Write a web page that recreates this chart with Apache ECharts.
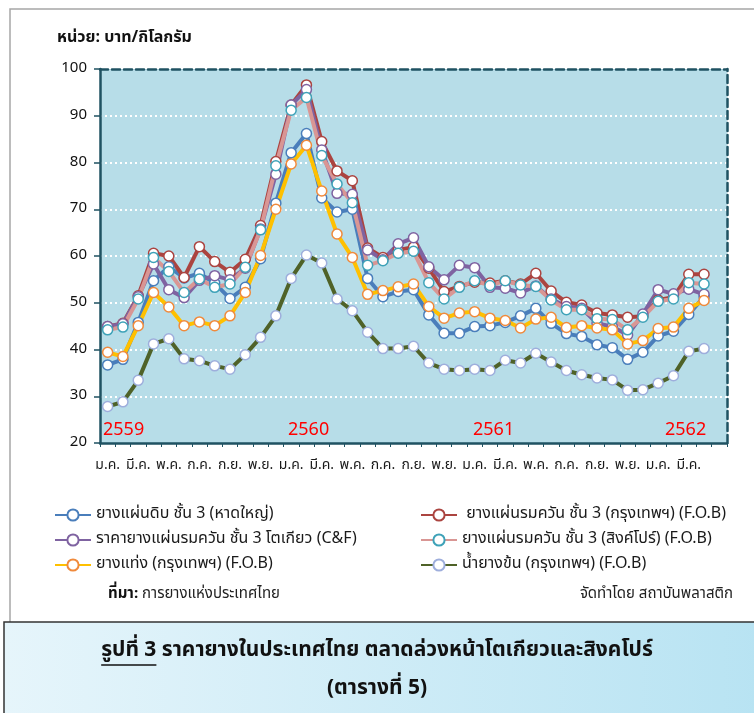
<!DOCTYPE html>
<html>
<head>
<meta charset="utf-8">
<script src="https://cdn.jsdelivr.net/npm/echarts@6/dist/echarts.min.js"></script>
<style>
  html, body { margin: 0; padding: 0; background: #fff; }
  #main { width: 754px; height: 713px; }
</style>
</head>
<body>
<div id="main"></div>
<script>
// เดือน (ม.ค. 2559 - เม.ย. 2562) ช่องสุดท้ายว่าง
var categories = ['ม.ค.','ก.พ.','มี.ค.','เม.ย.','พ.ค.','มิ.ย.','ก.ค.','ส.ค.','ก.ย.','ต.ค.','พ.ย.','ธ.ค.',
                  'ม.ค.','ก.พ.','มี.ค.','เม.ย.','พ.ค.','มิ.ย.','ก.ค.','ส.ค.','ก.ย.','ต.ค.','พ.ย.','ธ.ค.',
                  'ม.ค.','ก.พ.','มี.ค.','เม.ย.','พ.ค.','มิ.ย.','ก.ค.','ส.ค.','ก.ย.','ต.ค.','พ.ย.','ธ.ค.',
                  'ม.ค.','ก.พ.','มี.ค.','เม.ย.',''];
var years = ['2559', '2560', '2561', '2562'];
var yTicks = [20, 30, 40, 50, 60, 70, 80, 90, 100];

var rssHatyai = [36.7,37.9,45.8,54.7,57.7,55.3,56.3,54.2,50.9,53.3,59.4,71.3,82.1,86.2,72.4,69.4,70.0,55.2,51.3,52.4,
                 52.8,47.4,43.5,43.5,44.9,45.1,45.8,47.2,48.8,45.6,43.4,42.8,41.0,40.4,37.9,39.4,42.9,43.9,47.5,51.3];
var rssBkk    = [44.9,45.6,51.5,60.6,60.0,55.4,62.0,58.8,56.5,59.3,66.5,80.2,92.3,96.6,84.5,78.2,76.1,61.7,59.7,61.3,
                 61.9,57.4,52.4,53.5,54.4,54.2,54.7,54.0,56.3,52.5,50.1,49.5,47.8,47.4,46.9,47.1,50.6,51.2,56.1,56.1];
var rssTokyo  = [44.9,45.5,51.3,58.3,52.8,51.1,54.8,55.8,54.9,57.4,65.8,77.5,92.3,95.6,82.7,73.4,73.2,61.3,59.2,62.6,
                 63.9,57.7,54.9,58.0,57.5,53.3,53.1,52.1,53.6,50.8,49.2,48.8,45.6,44.9,43.1,47.6,52.8,51.9,52.9,51.8];
var rssSgp    = [44.2,44.8,50.8,59.7,56.7,52.2,55.1,53.3,54.0,57.6,65.6,79.3,91.2,93.9,81.5,75.4,71.4,58.0,59.0,60.6,
                 61.0,54.3,50.8,53.3,54.7,53.7,54.7,53.8,53.5,50.6,48.5,48.5,46.6,46.4,44.2,46.9,50.3,50.8,54.3,54.0];
var str20     = [39.4,38.5,45.1,52.2,49.1,45.1,45.9,45.1,47.2,52.2,60.1,70.0,79.7,83.7,73.9,64.7,59.7,51.8,52.6,53.4,
                 54.0,49.2,46.7,47.8,48.1,46.7,46.2,44.6,46.5,46.9,44.7,45.1,44.6,44.2,41.2,41.9,44.5,44.8,48.8,50.5];
var latex     = [27.8,28.8,33.4,41.2,42.3,38.0,37.6,36.5,35.8,38.9,42.6,47.2,55.2,60.2,58.5,50.8,48.3,43.7,40.2,40.2,
                 40.7,37.1,35.8,35.5,35.8,35.5,37.7,37.1,39.2,37.3,35.5,34.6,33.9,33.5,31.3,31.4,32.8,34.4,39.6,40.2];

var FONT = 'Tahoma, "Noto Sans Thai", "Noto Sans", sans-serif';
var AXIS = '#1f5262';

// ชื่อรูป + ความกว้างสำหรับขีดเส้นใต้ "รูปที่ 3"
var titleHead = 'รูปที่ 3';
var titleText = titleHead + ' ราคายางในประเทศไทย ตลาดล่วงหน้าโตเกียวและสิงคโปร์';
var ctx = document.createElement('canvas').getContext('2d');
ctx.font = 'bold 21px ' + FONT;
var titleW = ctx.measureText(titleText).width;
var headW = ctx.measureText(titleHead).width;
var titleX = 377 - titleW / 2;

var myChart = echarts.init(document.getElementById('main'));

function mkSeries(name, data, lineColor, borderColor) {
    return {
        name: name,
        type: 'line',
        data: data,
        symbol: 'circle',
        symbolSize: 10,
        lineStyle: { color: lineColor, width: 4 },
        itemStyle: { color: '#fff', borderColor: borderColor, borderWidth: 1.5 },
        emphasis: { disabled: true }
    };
}

var legendText = { fontSize: 16, color: '#1a1a1a', fontFamily: FONT };

var option = {
    animation: false,
    textStyle: { fontFamily: FONT },
    grid: { left: 100, top: 69, right: 27, bottom: 270, show: true, backgroundColor: '#b7dde8', borderWidth: 0 },
    legend: [{
        orient: 'vertical', left: 49, top: 502, itemWidth: 36, itemHeight: 14, itemGap: 9,
        textStyle: legendText,
        data: ['ยางแผ่นดิบ ชั้น 3 (หาดใหญ่)', 'ราคายางแผ่นรมควัน ชั้น 3 โตเกียว (C&F)', 'ยางแท่ง (กรุงเทพฯ) (F.O.B)']
    }, {
        orient: 'vertical', left: 415, top: 502, itemWidth: 36, itemHeight: 14, itemGap: 9,
        textStyle: legendText,
        data: [' ยางแผ่นรมควัน ชั้น 3 (กรุงเทพฯ) (F.O.B)', 'ยางแผ่นรมควัน ชั้น 3 (สิงค์โปร์) (F.O.B)', 'น้ำยางข้น (กรุงเทพฯ) (F.O.B)']
    }],
    xAxis: [{
        type: 'category',
        data: categories,
        boundaryGap: true,
        axisLine: { lineStyle: { color: AXIS, width: 2.5 } },
        axisTick: { show: true, interval: 0, length: 4, lineStyle: { color: AXIS, width: 1 } },
        axisLabel: { interval: 1, color: '#1a1a1a', fontSize: 14, margin: 16 }
    }, {
        type: 'category',
        data: categories,
        position: 'top',
        axisLine: { lineStyle: { color: AXIS, width: 2.5, type: [8, 4] } },
        axisTick: { show: false },
        axisLabel: { show: false }
    }],
    yAxis: [{
        type: 'value',
        min: yTicks[0], max: yTicks[yTicks.length - 1], interval: 10,
        axisLine: { show: true, lineStyle: { color: AXIS, width: 2.5 } },
        axisTick: { show: true, length: 6, lineStyle: { color: AXIS, width: 1.5 } },
        axisLabel: { color: '#111', fontSize: 15, margin: 13 },
        splitLine: { show: true, showMinLine: false, showMaxLine: false, lineStyle: { color: '#fff', width: 2, type: [2, 3] } }
    }, {
        type: 'value',
        min: yTicks[0], max: yTicks[yTicks.length - 1], interval: 10,
        position: 'right',
        axisLine: { show: true, lineStyle: { color: AXIS, width: 2.5, type: [8, 4] } },
        axisTick: { show: false },
        axisLabel: { show: false },
        splitLine: { show: false }
    }],
    series: [
        mkSeries('ยางแผ่นดิบ ชั้น 3 (หาดใหญ่)', rssHatyai, '#4a7ebb', '#4a7ebb'),
        mkSeries(' ยางแผ่นรมควัน ชั้น 3 (กรุงเทพฯ) (F.O.B)', rssBkk, '#ab4440', '#ab4440'),
        mkSeries('ราคายางแผ่นรมควัน ชั้น 3 โตเกียว (C&F)', rssTokyo, '#7f63a1', '#7f63a1'),
        mkSeries('ยางแผ่นรมควัน ชั้น 3 (สิงค์โปร์) (F.O.B)', rssSgp, '#d99694', '#3ea2b8'),
        mkSeries('ยางแท่ง (กรุงเทพฯ) (F.O.B)', str20, '#ffc000', '#f08a3c'),
        mkSeries('น้ำยางข้น (กรุงเทพฯ) (F.O.B)', latex, '#4f6228', '#9eaedc')
    ],
    graphic: [
        // กรอบนอก
        { type: 'rect', z: -10, shape: { x: 10, y: 9, width: 800, height: 700 },
          style: { fill: 'none', stroke: '#a6a6a6', lineWidth: 1.5 } },
        { type: 'text', left: 57, top: 31, style: { text: 'หน่วย: บาท/กิโลกรัม', font: 'bold 16px ' + FONT, fill: '#111' } },
        { type: 'text', left: 103, top: 422, z: 100, style: { text: years[0], font: '18px ' + FONT, fill: '#ff0000' } },
        { type: 'text', left: 288, top: 422, z: 100, style: { text: years[1], font: '18px ' + FONT, fill: '#ff0000' } },
        { type: 'text', left: 473, top: 422, z: 100, style: { text: years[2], font: '18px ' + FONT, fill: '#ff0000' } },
        { type: 'text', left: 665, top: 422, z: 100, style: { text: years[3], font: '18px ' + FONT, fill: '#ff0000' } },
        { type: 'text', left: 108, top: 587, style: {
            text: '{b|ที่มา:} การยางแห่งประเทศไทย',
            font: '15px ' + FONT, fill: '#222',
            rich: { b: { fontWeight: 'bold', fontSize: 15, fontFamily: FONT, fill: '#111' } }
        } },
        { type: 'text', right: 21, top: 587, style: { text: 'จัดทำโดย สถาบันพลาสติก', font: '15px ' + FONT, fill: '#222' } },
        // กล่องชื่อรูป
        { type: 'rect', shape: { x: 4, y: 622, width: 800, height: 120 },
          style: {
              fill: new echarts.graphic.LinearGradient(0, 0, 1, 0, [
                  { offset: 0, color: '#e6f5fb' }, { offset: 1, color: '#b5e2f2' }
              ]),
              stroke: '#333', lineWidth: 1.5
          } },
        { type: 'text', x: titleX, y: 652, style: {
            text: titleText, font: 'bold 21px ' + FONT, fill: '#111', verticalAlign: 'middle'
        } },
        { type: 'line', shape: { x1: titleX, y1: 665, x2: titleX + headW, y2: 665 }, style: { stroke: '#111', lineWidth: 1.5 } },
        { type: 'text', left: 'center', top: 679, style: { text: '(ตารางที่ 5)', font: 'bold 21px ' + FONT, fill: '#111' } }
    ]
};

myChart.setOption(option);
</script>
</body>
</html>
